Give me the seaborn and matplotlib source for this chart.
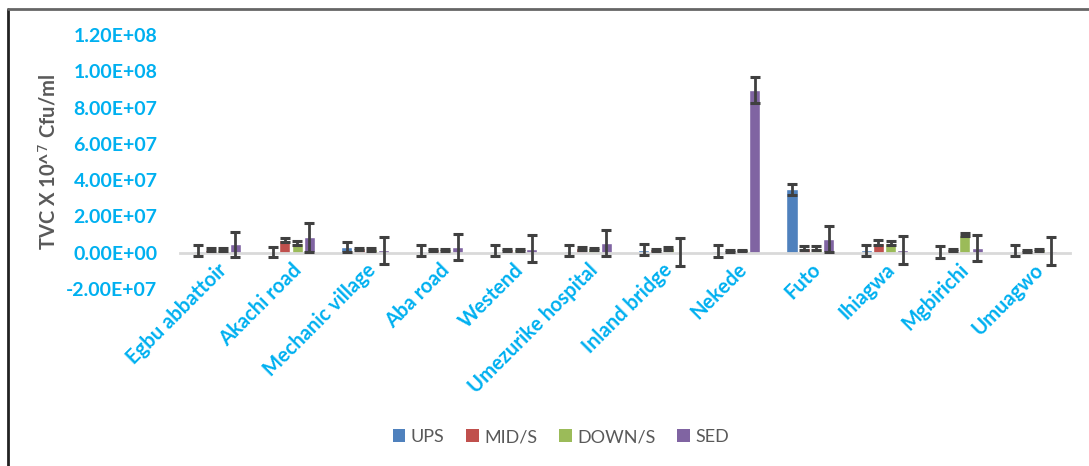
import matplotlib
matplotlib.use("Agg")
import matplotlib.pyplot as plt
from matplotlib.ticker import FuncFormatter
from matplotlib.lines import Line2D
from matplotlib.patches import Patch
import numpy as np
import pandas as pd
import seaborn as sns

# Sampling sites
sites = ["Egbu abbattoir", "Akachi road", "Mechanic village", "Aba road", "Westend",
         "Umezurike hospital", "Inland bridge", "Nekede", "Futo", "Ihiagwa",
         "Mgbirichi", "Umuagwo"]

# Total viable count (cfu/ml) per sample type
ups = [1.0e6, 0.4e6, 3.0e6, 1.0e6, 1.0e6, 1.0e6, 1.5e6, 1.0e6, 3.5e7, 1.3e6, 0.3e6, 1.0e6]
mid_s = [1.5e6, 7.0e6, 2.0e6, 1.5e6, 1.5e6, 2.5e6, 1.5e6, 1.0e6, 2.5e6, 5.5e6, 1.5e6, 1.0e6]
down_s = [1.5e6, 5.3e6, 1.8e6, 1.5e6, 1.5e6, 2.0e6, 2.5e6, 1.2e6, 2.5e6, 5.2e6, 9.8e6, 1.3e6]
sed = [4.5e6, 8.5e6, 1.2e6, 3.0e6, 2.2e6, 5.3e6, 0.5e6, 8.97e7, 7.5e6, 1.5e6, 2.4e6, 0.9e6]

# Standard deviations
ups_sd = [3.0e6, 2.7e6, 2.9e6, 3.0e6, 3.0e6, 3.0e6, 3.0e6, 3.2e6, 3.0e6, 3.0e6, 3.2e6, 3.0e6]
mid_s_sd = [0.8e6, 1.2e6, 0.8e6, 0.6e6, 0.6e6, 0.8e6, 0.6e6, 0.5e6, 0.9e6, 1.2e6, 0.6e6, 0.5e6]
down_s_sd = [0.8e6, 1.1e6, 0.8e6, 0.6e6, 0.6e6, 0.8e6, 0.8e6, 0.5e6, 0.9e6, 1.2e6, 0.9e6, 0.5e6]
sed_sd = [6.8e6, 8.0e6, 7.4e6, 7.3e6, 7.5e6, 7.4e6, 7.6e6, 7.2e6, 7.4e6, 7.5e6, 7.2e6, 7.5e6]

series = ["UPS", "MID/S", "DOWN/S", "SED"]
colors = ["#4F81BD", "#C0504D", "#9BBB59", "#8064A2"]

values = {"UPS": ups, "MID/S": mid_s, "DOWN/S": down_s, "SED": sed}
errors = {"UPS": ups_sd, "MID/S": mid_s_sd, "DOWN/S": down_s_sd, "SED": sed_sd}

df = pd.DataFrame([
    {"site": s, "sample": k, "tvc": values[k][i], "sd": errors[k][i]}
    for k in series for i, s in enumerate(sites)
])

sns.set_theme(style="white")
plt.rcParams["font.family"] = ["Lato", "DejaVu Sans"]

fig = plt.figure(figsize=(10.89, 4.66), dpi=100)
ax = fig.add_axes([0.165, 0.38, 0.8176, 0.545])

sns.barplot(data=df, x="site", y="tvc", hue="sample", hue_order=series,
            order=sites, palette=colors, errorbar=None, width=0.66,
            gap=0.1, ax=ax, legend=False, saturation=1)

# Error bars on each bar
for cont, name in zip(ax.containers, series):
    xs = [p.get_x() + p.get_width() / 2 for p in cont]
    hs = [p.get_height() for p in cont]
    ax.errorbar(xs, hs, yerr=errors[name], fmt="none", ecolor="#404040",
                elinewidth=2, capsize=3.8, capthick=2.2, zorder=5)

ax.set_ylim(-2e7, 1.2e8)
ax.set_xlim(-0.5, len(sites) - 0.5)
ax.set_yticks(np.arange(-2e7, 1.21e8, 2e7))
ax.yaxis.set_major_formatter(FuncFormatter(lambda v, p: f"{v:.2E}"))
ax.tick_params(axis="y", length=0, pad=16, labelsize=14, labelcolor="#00B0F0")
for t in ax.get_yticklabels():
    t.set_fontweight("bold")

# Category axis crossing at zero
for side in ["left", "right", "top"]:
    ax.spines[side].set_visible(False)
ax.spines["bottom"].set_position(("data", 0))
ax.spines["bottom"].set_color("#D9D9D9")
ax.spines["bottom"].set_linewidth(2)
ax.spines["bottom"].set_zorder(1)
ax.tick_params(axis="x", length=0, pad=5, labelsize=14.5, labelcolor="#00B0F0")
ax.set_xticks(range(len(sites)))
ax.set_xticklabels(sites, rotation=45, ha="right", rotation_mode="anchor",
                   fontweight="bold")
ax.set_xlabel("")

ax.set_ylabel("TVC X 10^$^{7}$ Cfu/ml", fontsize=14.5, fontweight="bold",
              color="#595959")
ax.yaxis.set_label_coords(-0.135, 0.5)

handles = [Patch(facecolor=c, edgecolor="none") for c in colors]
fig.legend(handles, series, loc="center", bbox_to_anchor=(0.515, 0.062),
           ncol=4, frameon=False, fontsize=13, handlelength=0.7,
           handleheight=0.7, handletextpad=0.3, columnspacing=1.2,
           labelcolor="#595959")

# Chart frame edges
fig.add_artist(Line2D([8 / 1089, 8 / 1089], [0, 1 - 9 / 466],
                      transform=fig.transFigure, color="#222222", lw=2))
fig.add_artist(Line2D([8 / 1089, 1], [1 - 9 / 466, 1 - 9 / 466],
                      transform=fig.transFigure, color="#666666", lw=2))

fig.savefig("out.png", dpi=100)
